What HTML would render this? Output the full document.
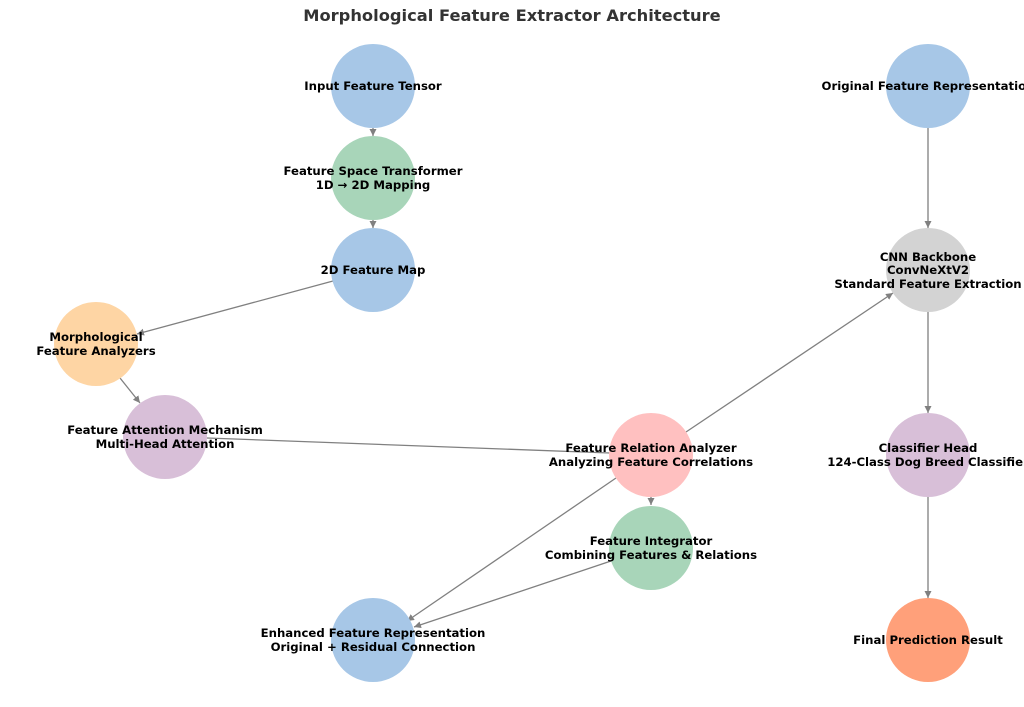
<!DOCTYPE html>
<html><head><meta charset="utf-8"><style>
html,body{margin:0;padding:0;background:#fff;width:1024px;height:707px;overflow:hidden}
svg text{font-family:"DejaVu Sans","Liberation Sans",sans-serif;font-weight:bold;font-size:11.7px;fill:#000;text-anchor:middle}
</style></head><body>
<svg width="1024" height="707" viewBox="0 0 1024 707">
<defs><marker id="a" markerWidth="8" markerHeight="8" refX="7" refY="3.5" orient="auto" markerUnits="userSpaceOnUse"><path d="M0,0 L7,3.5 L0,7 z" fill="#808080"/></marker></defs>
<text x="512" y="21" style="font-size:16.3px;fill:#333">Morphological Feature Extractor Architecture</text>
<g stroke="#808080" stroke-width="1.3" fill="none" marker-end="url(#a)">
<line x1="373" y1="128" x2="373" y2="136"/>
<line x1="373" y1="220" x2="373" y2="228"/>
<line x1="333" y1="281" x2="137" y2="334"/>
<line x1="120" y1="378" x2="140" y2="403"/>
<line x1="686" y1="432" x2="893" y2="293"/>
<line x1="651" y1="497" x2="651" y2="505"/>
<line x1="616" y1="478" x2="407" y2="621"/>
<line x1="611" y1="561" x2="414" y2="627"/>
<line x1="928" y1="128" x2="928" y2="228"/>
<line x1="928" y1="312" x2="928" y2="413"/>
<line x1="928" y1="497" x2="928" y2="598"/>
</g>
<line x1="207" y1="438" x2="610" y2="453" stroke="#808080" stroke-width="1.3"/>
<g>
<circle cx="373" cy="86" r="42" fill="#a7c7e7"/>
<circle cx="373" cy="178" r="42" fill="#a8d5b9"/>
<circle cx="373" cy="270" r="42" fill="#a7c7e7"/>
<circle cx="96" cy="344" r="42" fill="#fed5a4"/>
<circle cx="165" cy="437" r="42" fill="#d8bfd8"/>
<circle cx="651" cy="455" r="42" fill="#ffc0c0"/>
<circle cx="651" cy="548" r="42" fill="#a8d5b9"/>
<circle cx="373" cy="640" r="42" fill="#a7c7e7"/>
<circle cx="928" cy="86" r="42" fill="#a7c7e7"/>
<circle cx="928" cy="270" r="42" fill="#d3d3d3"/>
<circle cx="928" cy="455" r="42" fill="#d8bfd8"/>
<circle cx="928" cy="640" r="42" fill="#ffa07a"/>
</g>
<text x="373" y="90">Input Feature Tensor</text>
<text x="373" y="175">Feature Space Transformer</text>
<text x="373" y="189">1D → 2D Mapping</text>
<text x="373" y="274">2D Feature Map</text>
<text x="96" y="341">Morphological</text>
<text x="96" y="355">Feature Analyzers</text>
<text x="165" y="434">Feature Attention Mechanism</text>
<text x="165" y="448">Multi-Head Attention</text>
<text x="651" y="452">Feature Relation Analyzer</text>
<text x="651" y="466">Analyzing Feature Correlations</text>
<text x="651" y="545">Feature Integrator</text>
<text x="651" y="559">Combining Features &amp; Relations</text>
<text x="373" y="637">Enhanced Feature Representation</text>
<text x="373" y="651">Original + Residual Connection</text>
<text x="928" y="90">Original Feature Representation</text>
<text x="928" y="261">CNN Backbone</text>
<text x="928" y="274">ConvNeXtV2</text>
<text x="928" y="288">Standard Feature Extraction</text>
<text x="928" y="452">Classifier Head</text>
<text x="928" y="466">124-Class Dog Breed Classifier</text>
<text x="928" y="644">Final Prediction Result</text>
</svg>
</body></html>
